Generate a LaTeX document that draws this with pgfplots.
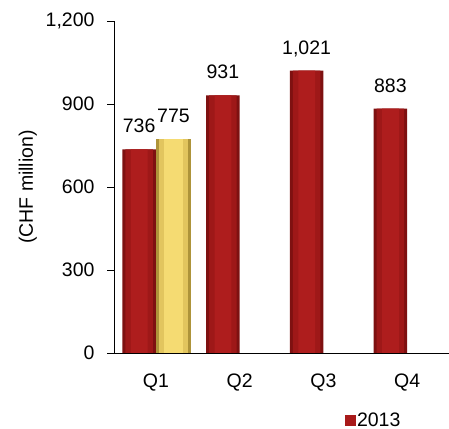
\documentclass[border=0pt]{standalone}
\usepackage{pgfplots}
\pgfplotsset{compat=1.18}
\usepackage{fontspec}
\setmainfont{Liberation Sans}

% bar tones: edge, body, centre
\definecolor{redA}{HTML}{7E1111}
\definecolor{redB}{HTML}{9E1818}
\definecolor{redC}{HTML}{AE1D1D}
\definecolor{goldA}{HTML}{AE943A}
\definecolor{goldB}{HTML}{E2C55E}
\definecolor{goldC}{HTML}{F5DB72}
\definecolor{legred}{HTML}{A81A1A}

\pgfplotstableread{
x    y
-0.2 736
0.8  931
1.8  1021
2.8  883
}\yeartwentythirteen
\pgfplotstableread{
x    y
0.21 775
}\yeartwentyfourteen

\begin{document}
\begin{tikzpicture}
\useasboundingbox (0bp,0bp) rectangle (449bp,429bp);
\begin{axis}[
  at={(114bp,76bp)}, anchor=south west,
  scale only axis, width=335bp, height=332bp,
  xmin=-0.5, xmax=3.5, ymin=0, ymax=1200,
  axis lines*=left,
  axis line style={black, line width=0.8bp},
  axis on top,
  font=\fontsize{19.5bp}{22bp}\selectfont,
  /pgf/number format/.cd, 1000 sep={,}, assume math mode=true,
  /pgfplots/.cd,
  xtick={0,1,2,3},
  xticklabels={Q1,Q2,Q3,Q4},
  xtick style={draw=none},
  xticklabel style={anchor=north, yshift=-10bp},
  ytick={0,300,600,900,1200},
  ytick style={black, line width=0.8bp},
  tick align=outside,
  major tick length=7bp,
  yticklabel style={anchor=east, xshift=-9bp},
  ylabel={(CHF million)},
  ylabel style={at={(axis description cs:-0.257,0.5)}, anchor=center},
  legend style={at={(rel axis cs:0.6896,-0.202)}, anchor=west, draw=none,
    fill=none, inner sep=0pt, outer sep=0pt,
    nodes={inner sep=1bp, anchor=west}},
  legend image code/.code={\fill[legred] (0bp,-5.5bp) rectangle (11bp,5.5bp);},
  value label/.style={nodes near coords,
    every node near coord/.append style={anchor=base, yshift=16.5bp,
      inner sep=0pt, black}},
]
% 2013 quarterly values, drawn in three widths for a rounded look
\addplot[ybar, bar width=0.40, bar shift=0, draw=none, fill=redA]
  table[x=x, y=y] {\yeartwentythirteen};
\addlegendentry{2013}
\addplot[ybar, bar width=0.33, bar shift=0, draw=none, fill=redB, forget plot]
  table[x=x, y=y] {\yeartwentythirteen};
\addplot[ybar, bar width=0.20, bar shift=0, draw=none, fill=redC, forget plot, value label]
  table[x=x, y=y] {\yeartwentythirteen};
% 2014 first quarter
\addplot[ybar, bar width=0.42, bar shift=0, draw=none, fill=goldA, forget plot]
  table[x=x, y=y] {\yeartwentyfourteen};
\addplot[ybar, bar width=0.35, bar shift=0, draw=none, fill=goldB, forget plot]
  table[x=x, y=y] {\yeartwentyfourteen};
\addplot[ybar, bar width=0.22, bar shift=0, draw=none, fill=goldC, forget plot, value label]
  table[x=x, y=y] {\yeartwentyfourteen};
\end{axis}
\end{tikzpicture}
\end{document}
